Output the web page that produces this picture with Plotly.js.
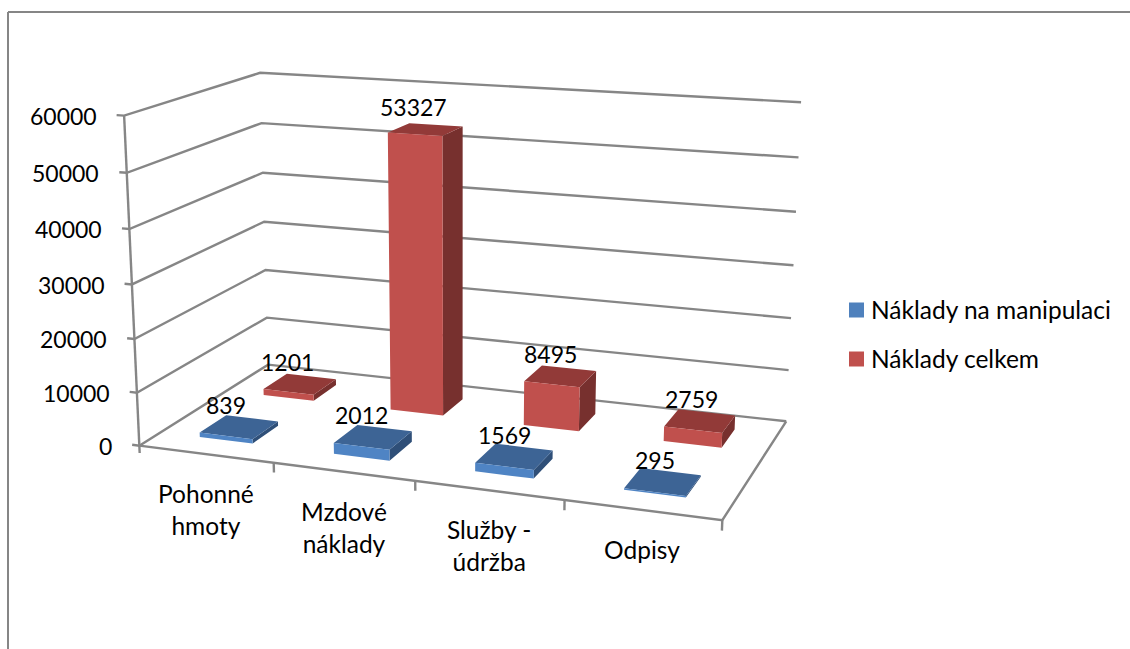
<!DOCTYPE html>
<html><head><meta charset="utf-8"><script src="https://cdn.plot.ly/plotly-3.0.1.min.js"></script>
<style>html,body{margin:0;padding:0;background:#fff}#c{width:1130px;height:649px}</style></head>
<body><div id="c"></div><script>
// Cost breakdown by category, drawn as a 3D-look column chart.
const categories=['Pohonné<br>hmoty','Mzdové<br>náklady','Služby -<br>údržba','Odpisy'];
const seriesNames=['Náklady na manipulaci','Náklady celkem'];
const manipulationCosts=[839,2012,1569,295];
const totalCosts=[1201,53327,8495,2759];
const valueTicks=[0,10000,20000,30000,40000,50000,60000];
const W=1130,H=649;

// Projective camera: (category, depth, value) -> position on the hidden pixel-scaled axes.
const CAM=[0.509628,0.165705,-0.020839,0.139343,0.021713,-0.030820,-0.335285,0.445666,-0.101545,0.137741,-0.045219];
function project(x,y,z){
  const u=x/4,v=y,w=z/60000,d=CAM[8]*u+CAM[9]*v+CAM[10]*w+1;
  return[1000*(CAM[0]*u+CAM[1]*v+CAM[2]*w+CAM[3])/d,1000*(CAM[4]*u+CAM[5]*v+CAM[6]*w+CAM[7])/d];
}
const grey='#868686';
function faceTrace(color){return{type:'scatter',mode:'lines',fill:'toself',fillcolor:color,line:{width:0,color},x:[],y:[],hoverinfo:'skip',showlegend:false}}
function addFace(t,corners){
  if(t.x.length){t.x.push(null);t.y.push(null)}
  for(const c of[...corners,corners[0]]){const p=project(...c);t.x.push(p[0]);t.y.push(p[1])}
}
// One column per value: right side first, then the top, then the front face.
function seriesTraces(vals,y0,y1,col){
  const s=faceTrace(col.side),t=faceTrace(col.top),f=faceTrace(col.front);
  vals.forEach((v,c)=>{const a=c+.3,b=c+.7;
    addFace(s,[[b,y0,0],[b,y1,0],[b,y1,v],[b,y0,v]]);
    addFace(t,[[a,y0,v],[b,y0,v],[b,y1,v],[a,y1,v]]);
    addFace(f,[[a,y0,0],[b,y0,0],[b,y0,v],[a,y0,v]]);});
  return[s,t,f];
}
// Walls, floor edges and tick marks.
const gx=[],gy=[];
function seg(...pts){for(const p of pts){const q=project(...p);gx.push(q[0]);gy.push(q[1])}gx.push(null);gy.push(null)}
for(const t of valueTicks)seg([-.055,0,t],[0,0,t],[0,1,t],[4,1,t]);
seg([0,0,-1400],[0,0,60000]);
seg([0,0,0],[4,0,0],[4,1,0]);
for(let c=1;c<=4;c++)seg([c,0,-1800],[c,0,0]);
const lines={type:'scatter',mode:'lines',x:gx,y:gy,line:{color:grey,width:2.4},hoverinfo:'skip',showlegend:false};

const textFont={family:'Lato, sans-serif',size:24.5,color:'#000'},numFont={family:'Lato, sans-serif',size:23,color:'#000'};
const ann=[];
valueTicks.forEach(t=>{const p=project(-.055,0,t);ann.push({x:p[0],y:p[1],text:String(t),showarrow:false,xanchor:'right',yanchor:'middle',xshift:-18,yshift:-1,font:numFont})});
categories.forEach((c,n)=>{const p=project(n+.5,0,-1800);ann.push({x:p[0],y:p[1],text:c,showarrow:false,xanchor:'center',yanchor:'top',yshift:-13,font:textFont})});
const labelShiftX=[-13,-12,-10,-8];
const valueLabels=(vals,y)=>vals.forEach((v,c)=>{const p=project(c+.5,y,v);ann.push({x:p[0],y:p[1],text:String(v),showarrow:false,xanchor:'center',yanchor:'middle',xshift:labelShiftX[c],yshift:22,font:numFont})});
valueLabels(manipulationCosts,.25);
valueLabels(totalCosts,.75);

// Legend swatches and names.
const legendColors=['#4F81BD','#C0504D'],legendRows=[310,359];
const shapes=[{type:'line',x0:8,x1:1130,y0:12,y1:12,line:{color:grey,width:2}},{type:'line',x0:8,x1:8,y0:12,y1:649,line:{color:grey,width:2}}];
seriesNames.forEach((n,i)=>{
  shapes.push({type:'rect',x0:849,x1:864,y0:legendRows[i]-7.5,y1:legendRows[i]+7.5,fillcolor:legendColors[i],line:{width:0}});
  ann.push({x:869,y:legendRows[i],text:n,showarrow:false,xanchor:'left',yanchor:'middle',yshift:1,font:textFont});
});
const data=[lines,
  ...seriesTraces(totalCosts,.65,.85,{front:'#C0504D',top:'#923A38',side:'#77302E'}),
  ...seriesTraces(manipulationCosts,.15,.35,{front:'#4F84C4',top:'#3D6495',side:'#2F4F78'})];
const layout={width:W,height:H,margin:{l:0,r:0,t:0,b:0},paper_bgcolor:'#fff',plot_bgcolor:'#fff',showlegend:false,shapes,annotations:ann,
  xaxis:{visible:false,range:[0,W],fixedrange:true},yaxis:{visible:false,range:[H,0],fixedrange:true}};
Plotly.newPlot('c',data,layout,{displayModeBar:false,staticPlot:true});
</script></body></html>
